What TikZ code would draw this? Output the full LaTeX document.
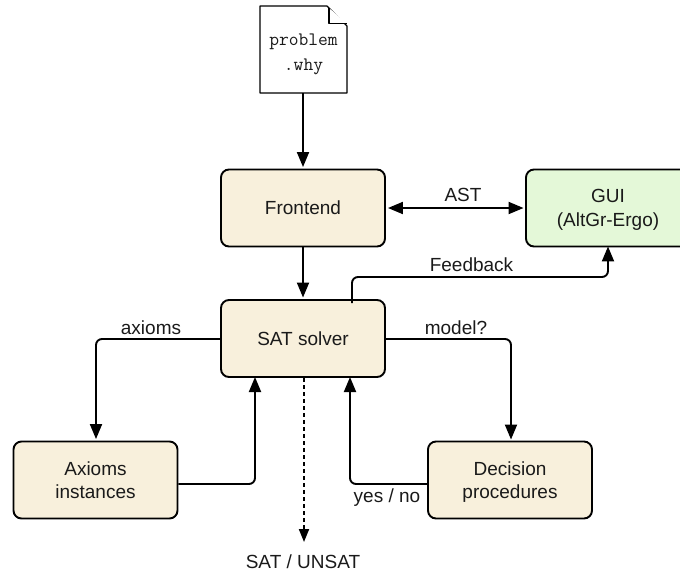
\documentclass[tikz,border=0pt]{standalone}
\usepackage{fontspec}
\setmainfont{Liberation Sans}
\usetikzlibrary{arrows.meta}
\definecolor{boxtan}{HTML}{F8F0DC}
\definecolor{boxgreen}{HTML}{E4F8D8}
\definecolor{txt}{HTML}{1A1A1A}
\tikzset{
  px/.style={x=1pt,y=-1pt},
  blockbox/.style={draw=black,line width=1.9pt,rounded corners=8pt,fill=boxtan,minimum width=164pt,minimum height=77pt,inner sep=0pt,align=center,font=\fontsize{19}{23.5}\selectfont,text=txt},
  guibox/.style={blockbox,fill=boxgreen,text depth=-2pt},
  lab/.style={inner sep=0pt,font=\fontsize{19}{23}\selectfont,text=txt},
  conn/.style={draw=black,line width=1.9pt,rounded corners=6pt,-{Triangle[length=15pt,width=12pt]}},
  both/.style={conn,{Triangle[length=15pt,width=12pt]}-{Triangle[length=15pt,width=12pt]}},
  dotconn/.style={draw=black,line width=1.9pt,dash pattern=on 4pt off 3pt,-{Triangle[length=13pt,width=10pt]}},
  docfile/.style={draw=black,line width=1.2pt,fill=white,line join=round},
  doclab/.style={inner sep=0pt,align=center,font=\ttfamily\fontsize{19}{25}\selectfont,text=txt}
}
\begin{document}
\begin{tikzpicture}[px]
\useasboundingbox (0,0) rectangle (680,576);
\draw[docfile] (260,6) -- (327,6) -- (347,26) -- (347,93) -- (260,93) -- cycle;
\draw[docfile] (329,8) -- (329,23.5) -- (347,23.5);
\node[doclab] (doc) at (303.5,54) {problem\\.why};
\coordinate (docS) at (303,93);
\node[blockbox] (front) at (303,208) {Frontend};
\node[guibox] (gui) at (608,208) {GUI\\(AltGr-Ergo)};
\node[blockbox] (sat) at (303,338.5) {SAT solver};
\node[blockbox] (ax) at (95.5,480) {Axioms\\instances};
\node[blockbox,text depth=0pt] (dec) at (510,480) {Decision\\procedures};
\draw[conn,shorten >=1.5pt] (docS) -- (front.north -| docS);
\draw[both,shorten <=2pt,shorten >=1.5pt] (front.east) -- (gui.west);
\node[lab] (ast) at (463,195) {AST};
\draw[conn,shorten >=1.5pt] (front) -- (sat);
\coordinate (fbS) at (352,303);
\draw[conn,shorten >=-1pt] (fbS) -- (352,277) -- (608,277) -- (gui.south);
\node[lab] (fb) at (471.5,265) {Feedback};
\draw[conn,shorten >=1.5pt] (sat.west |- 0,339) -- (96,339) -- (ax.north -| 96,339);
\node[lab] (axl) at (151,328) {axioms};
\draw[conn] (ax.east |- 0,484) -- (255,484) -- (255,377);
\draw[conn,shorten >=1pt] (sat.east |- 0,339) -- (511,339) -- (dec.north -| 511,339);
\node[lab] (mod) at (456,328) {model?};
\draw[conn] (dec.west |- 0,484) -- (350,484) -- (350,377);
\node[lab] (yn) at (387,498) {yes / no};
\coordinate (res) at (304,542);
\draw[dotconn] (304,378) -- (res);
\node[lab] (out) at (303,562) {SAT / UNSAT};
\end{tikzpicture}
\end{document}
